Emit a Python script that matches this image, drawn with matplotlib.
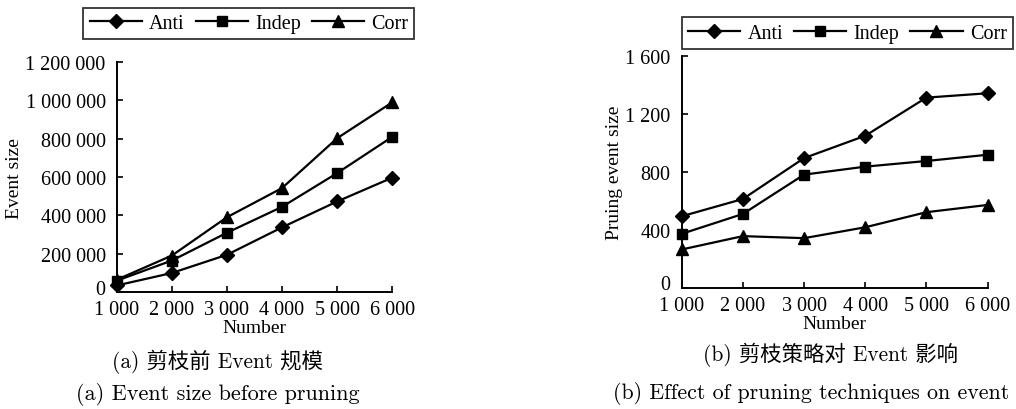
import matplotlib.pyplot as plt
import matplotlib.transforms as mtransforms
from matplotlib.ticker import FuncFormatter

# data
number = [1000, 2000, 3000, 4000, 5000, 6000]

# (a) event size before pruning
anti_a = [35000, 100000, 195000, 338000, 473000, 597000]
indep_a = [60000, 165000, 310000, 445000, 621000, 810000]
corr_a = [65000, 191000, 391000, 543000, 803000, 990000]

# (b) pruned event size
anti_b = [495, 614, 896, 1050, 1313, 1343]
indep_b = [374, 511, 782, 837, 876, 919]
corr_b = [266, 358, 344, 419, 523, 573]

yticks_a = [0, 200000, 400000, 600000, 800000, 1000000, 1200000]
yticks_b = [0, 400, 800, 1200, 1600]

labels = ["Anti", "Indep", "Corr"]
markers = ["D", "s", "^"]
msizes = [7.5, 7.5, 9]

serif = "Liberation Serif"
plt.rcParams["font.family"] = [serif, "DejaVu Sans"]
fs = 14.5


def spaced(v, pos):
    return "{:,}".format(int(v)).replace(",", " ")


fig = plt.figure(figsize=(10.16, 4.10), dpi=100)
ax1 = fig.add_axes([0.115, 0.285, 0.271, 0.561])
ax2 = fig.add_axes([0.671, 0.295, 0.301, 0.566])


def draw(ax, series, yticks, ylabel):
    handles = []
    for ys, lab, m, ms in zip(series, labels, markers, msizes):
        h, = ax.plot(number, ys, color="black", lw=1.6, marker=m, ms=ms,
                     label=lab, clip_on=False, zorder=3)
        handles.append(h)
    ax.set_xlim(number[0], number[-1])
    ax.set_ylim(yticks[0], yticks[-1])
    ax.set_xticks(number)
    ax.set_yticks(yticks)
    ax.xaxis.set_major_formatter(FuncFormatter(spaced))
    ax.yaxis.set_major_formatter(FuncFormatter(spaced))
    for s in ["top", "right"]:
        ax.spines[s].set_visible(False)
    for s in ["left", "bottom"]:
        ax.spines[s].set_linewidth(1.4)
    ax.tick_params(direction="in", length=4, width=1.2, labelsize=fs)
    ax.tick_params(axis="x", pad=6)
    ax.tick_params(axis="y", pad=8)
    ax.set_xlabel("Number", fontsize=14, labelpad=0)
    ax.set_ylabel(ylabel, fontsize=14, labelpad=2)
    # lift the "0" a little so it clears the first x label
    zero = ax.get_yticklabels()[0]
    zero.set_transform(zero.get_transform() +
                       mtransforms.ScaledTranslation(0, 4 / 72, fig.dpi_scale_trans))
    return handles


h1 = draw(ax1, [anti_a, indep_a, corr_a], yticks_a, "Event size")
h2 = draw(ax2, [anti_b, indep_b, corr_b], yticks_b, "Pruing event size")

legkw = dict(ncol=3, frameon=True, fancybox=False, edgecolor="black",
             fontsize=fs, handlelength=2.6, handletextpad=0.35,
             columnspacing=0.55, borderpad=0.3, borderaxespad=0)
leg1 = fig.legend(handles=h1, loc="center", bbox_to_anchor=(0.245, 0.94), **legkw)
leg2 = fig.legend(handles=h2, loc="center", bbox_to_anchor=(0.834, 0.917), **legkw)
for lg in (leg1, leg2):
    lg.get_frame().set_linewidth(1.3)

cap = ["cmr10", "Noto Sans CJK SC"]
fig.text(0.214, 0.117, "(a) 剪枝前 Event 规模", ha="center", va="center",
         fontsize=15.4, family=cap)
fig.text(0.214, 0.037, "(a) Event size before pruning", ha="center", va="center",
         fontsize=16, family=cap)
fig.text(0.817, 0.134, "(b) 剪枝策略对 Event 影响", ha="center", va="center",
         fontsize=15.4, family=cap)
fig.text(0.798, 0.041, "(b) Effect of pruning techniques on event", ha="center",
         va="center", fontsize=15.8, family=cap)

fig.savefig("out.png", dpi=100)
